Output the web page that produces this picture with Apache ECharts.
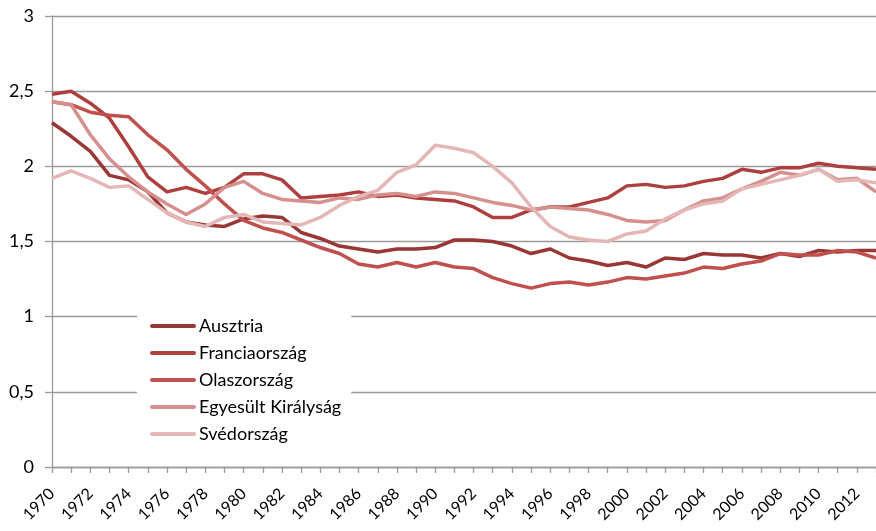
<!DOCTYPE html>
<html>
<head>
<meta charset="utf-8">
<script src="https://cdn.jsdelivr.net/npm/echarts@6/dist/echarts.min.js"></script>
<style>
  html, body { margin: 0; padding: 0; background: #fff; }
  #chart { width: 876px; height: 531px; }
</style>
</head>
<body>
<div id="chart"></div>
<script>
// years on the category axis
var years = [];
for (var y = 1970; y <= 2013; y++) { years.push(String(y)); }

var austria = [2.29,2.20,2.10,1.94,1.91,1.83,1.69,1.63,1.61,1.60,
               1.65,1.67,1.66,1.56,1.52,1.47,1.45,1.43,1.45,1.45,
               1.46,1.51,1.51,1.50,1.47,1.42,1.45,1.39,1.37,1.34,
               1.36,1.33,1.39,1.38,1.42,1.41,1.41,1.39,1.42,1.40,
               1.44,1.43,1.44,1.44];
var france  = [2.48,2.50,2.42,2.32,2.13,1.93,1.83,1.86,1.82,1.86,
               1.95,1.95,1.91,1.79,1.80,1.81,1.83,1.80,1.81,1.79,
               1.78,1.77,1.73,1.66,1.66,1.71,1.73,1.73,1.76,1.79,
               1.87,1.88,1.86,1.87,1.90,1.92,1.98,1.96,1.99,1.99,
               2.02,2.00,1.99,1.98];
var italy   = [2.43,2.41,2.36,2.34,2.33,2.21,2.11,1.98,1.87,1.75,
               1.64,1.59,1.56,1.51,1.46,1.42,1.35,1.33,1.36,1.33,
               1.36,1.33,1.32,1.26,1.22,1.19,1.22,1.23,1.21,1.23,
               1.26,1.25,1.27,1.29,1.33,1.32,1.35,1.37,1.42,1.41,
               1.41,1.44,1.43,1.39];
var uk      = [2.43,2.41,2.21,2.05,1.93,1.83,1.75,1.68,1.75,1.86,
               1.90,1.82,1.78,1.77,1.76,1.79,1.78,1.81,1.82,1.80,
               1.83,1.82,1.79,1.76,1.74,1.71,1.73,1.72,1.71,1.68,
               1.64,1.63,1.64,1.71,1.77,1.79,1.85,1.90,1.96,1.94,
               1.98,1.91,1.92,1.83];
var sweden  = [1.92,1.97,1.92,1.86,1.87,1.78,1.69,1.63,1.60,1.66,
               1.68,1.63,1.62,1.61,1.66,1.74,1.80,1.84,1.96,2.01,
               2.14,2.12,2.09,2.00,1.89,1.73,1.60,1.53,1.51,1.50,
               1.55,1.57,1.65,1.71,1.75,1.77,1.85,1.88,1.91,1.94,
               1.98,1.90,1.91,1.89];

var names  = ['Ausztria', 'Franciaország', 'Olaszország', 'Egyesült Királyság', 'Svédország'];
var colors = ['#983735', '#ad403e', '#c0504d', '#d58f8d', '#e4b7b6'];
var values = [austria, france, italy, uk, sweden];

var font = 'Lato, "Open Sans", sans-serif';

var chart = echarts.init(document.getElementById('chart'));

var series = [];
for (var i = 0; i < names.length; i++) {
    series.push({
        name: names[i],
        type: 'line',
        data: values[i],
        symbol: 'none',
        lineStyle: { width: 3.5, color: colors[i], join: 'round' },
        itemStyle: { color: colors[i], opacity: 0 },
        animation: false
    });
}

var option = {
    backgroundColor: '#fff',
    color: colors,
    grid: { left: 52, top: 16, right: -6, bottom: 64 },
    legend: {
        orient: 'vertical',
        left: 137,
        top: 307,
        padding: [10, 10, 10, 13],
        backgroundColor: '#fff',
        itemWidth: 42,
        itemHeight: 18,
        itemGap: 9,
        data: names,
        itemStyle: { opacity: 0 },
        lineStyle: { width: 4, cap: 'round' },
        textStyle: { fontFamily: font, fontSize: 18, color: '#000', lineHeight: 18 }
    },
    xAxis: {
        type: 'category',
        data: years,
        boundaryGap: false,
        axisLine: { lineStyle: { color: '#9a9a9a', width: 1.3 } },
        axisTick: { show: true, interval: 0, length: 6, lineStyle: { color: '#9a9a9a', width: 1.3 } },
        axisLabel: { interval: 1, rotate: 45, margin: 24, fontFamily: font, fontSize: 16, color: '#000' },
        splitLine: { show: false }
    },
    yAxis: {
        type: 'value',
        min: 0,
        max: 3,
        interval: 0.5,
        axisLine: { show: true, lineStyle: { color: '#9a9a9a', width: 1.3 } },
        axisTick: { show: true, length: 7, lineStyle: { color: '#9a9a9a', width: 1.3 } },
        axisLabel: {
            margin: 18, fontFamily: font, fontSize: 18, color: '#000',
            formatter: function (v) { return String(v).replace('.', ','); }
        },
        splitLine: { lineStyle: { color: '#9a9a9a', width: 1.3 } }
    },
    series: series
};
chart.setOption(option);
</script>
</body>
</html>
